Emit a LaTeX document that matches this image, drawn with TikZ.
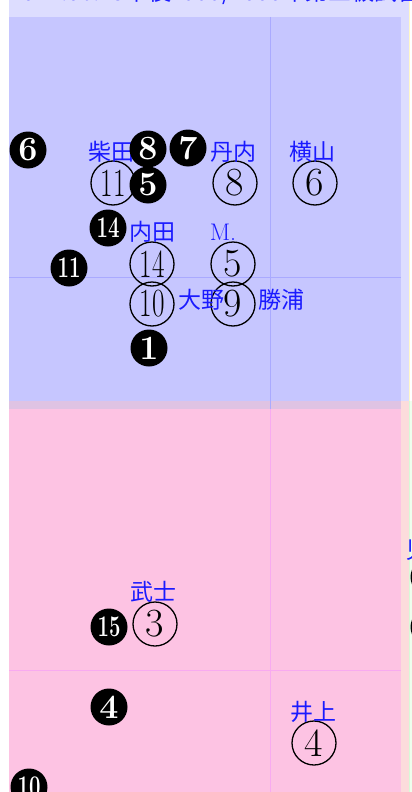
\documentclass[tikz,border=0pt]{standalone}
\usepackage{fontspec}
\newfontfamily\jpfont{Noto Sans CJK JP}
\definecolor{topouter}{HTML}{DDDDFF}
\definecolor{topinner}{HTML}{C6C6FF}
\definecolor{botouter}{HTML}{FCDCDC}
\definecolor{botinner}{HTML}{FDC3E3}
\definecolor{overlapcol}{HTML}{DFC3E3}
\definecolor{topgrid}{HTML}{AAAAFF}
\definecolor{botgrid}{HTML}{F8AAF0}
\definecolor{namecol}{HTML}{1A1AFF}
\definecolor{edgeyellow}{HTML}{FFF8C8}
\definecolor{edgegreen}{HTML}{D8FAD8}
\definecolor{nextgreen}{HTML}{EEFFEE}
\tikzset{
  player/.style={circle, draw=black, line width=1.3pt, minimum size=44pt, inner sep=0pt,
    font=\fontsize{40}{40}\selectfont},
  sub/.style={circle, fill=black, text=white, minimum size=37pt, inner sep=0pt,
    font=\bfseries\fontsize{34}{34}\selectfont},
  subtwo/.style={sub, font=\bfseries\fontsize{30}{30}\selectfont},
  pname/.style={text=namecol, font=\jpfont\fontsize{23}{23}\selectfont, inner sep=0pt},
}
\newcommand{\two}[1]{\scalebox{0.68}[1]{#1}}

\begin{document}
\begin{tikzpicture}[x=1pt, y=-1pt]
			\useasboundingbox (0,0) rectangle (412,792);
			\clip (0,0) rectangle (412,792);
			% half fields
			\fill[topouter] (9,0) rectangle (409,401);
			\fill[topinner] (9,17) rectangle (401,401);
			\fill[botouter] (9,401) rectangle (409,792);
			\fill[botinner] (9,409) rectangle (401,792);
			\fill[overlapcol] (9,401) rectangle (401,409);
			\fill[nextgreen] (410,401) rectangle (412,792);
			\draw[edgeyellow, line width=1pt] (409.5,0) -- (409.5,401);
			\draw[edgegreen, line width=1pt] (409.5,401) -- (409.5,792);
			\draw[topgrid, line width=0.6pt] (270,17) -- (270,409) (9,277) -- (401,277);
			\draw[botgrid, line width=0.6pt] (270,409) -- (270,792) (9,670) -- (401,670);
			\node[pname, anchor=base west] (title) at (10,0.5) {2024.06.15午後1999/2000年第三級試合の記録};
			% starting players
			\node[player] (p11) at (113,183) {\two{11}};
			\node[player] (p8) at (235,183) {8};
			\node[player] (p6) at (315,183) {6};
			\node[player] (p14) at (152,264) {\two{14}};
			\node[player] (p5) at (233,264) {5};
			\node[player] (p10) at (152,304) {\two{10}};
			\node[player] (p9) at (233,304) {9};
			\node[player] (p3) at (155,624) {3};
			\node[player] (p4) at (314,743) {4};
			% names
			\node[pname] (shibata) at (111,152) {柴田};
			\node[pname] (tannai) at (233,152) {丹内};
			\node[pname] (yokoyama) at (312,152) {横山};
			\node[pname] (uchida) at (152,232) {内田};
			\node[pname, font=\fontsize{24}{24}\selectfont] (m) at (223,232) {M.};
			\node[pname] (ohno) at (201,300) {大野};
			\node[pname] (katsuura) at (281,300) {勝浦};
			\node[pname] (bushi) at (153,592) {武士};
			\node[pname] (inoue) at (313,712) {井上};
			\node[pname] (edge) at (418,550) {児};
			% replacements
			\node[sub] (s6) at (28,150) {6};
			\node[sub] (s8) at (148,149) {8};
			\node[sub] (s7) at (188,148) {7};
			\node[sub] (s5) at (148,185) {5};
			\node[subtwo] (s14) at (108,228) {\two{14}};
			\node[subtwo] (s11) at (69,268) {\two{11}};
			\node[sub] (s1) at (149,348) {1};
			\node[subtwo] (s15) at (109,627) {\two{15}};
			\node[sub] (s4) at (109,707) {4};
			\node[subtwo] (s10) at (29,787) {\two{10}};
			\node[sub] (e1) at (429,577) {2};
			\node[sub] (e2) at (429,627) {3};
		\end{tikzpicture}
\end{document}
